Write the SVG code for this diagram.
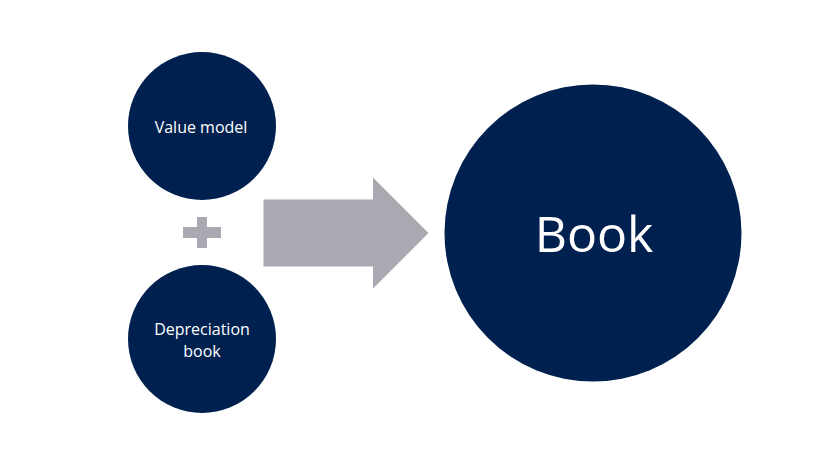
<svg xmlns="http://www.w3.org/2000/svg" width="816" height="459" viewBox="0 0 816 459">
<style>
.node{fill:#00214F}
.lbl{fill:#FFFFFF;font-family:"Open Sans","Noto Sans",sans-serif;text-anchor:middle}
.sm{font-size:16px}
.big{font-size:50px}
.gray{fill:#A9AAB1}
</style>
<rect width="816" height="459" fill="#FFFFFF"/>
<g id="value-model">
<circle class="node" cx="202" cy="126" r="74"/>
<text class="lbl sm" x="201" y="132.5">Value model</text>
</g>
<g id="plus">
<rect class="gray" x="183" y="227" width="38" height="11"/>
<rect class="gray" x="197" y="217" width="10" height="31"/>
</g>
<g id="depreciation-book">
<circle class="node" cx="202" cy="339" r="74"/>
<text class="lbl sm" x="202" y="335">Depreciation</text>
<text class="lbl sm" x="202" y="357">book</text>
</g>
<g id="connectors">
<polygon class="gray" points="263.5,199.5 373,199.5 373,177.5 428.5,233 373,288.5 373,266.5 263.5,266.5"/>
</g>
<g id="book">
<circle class="node" cx="593" cy="233" r="148.5"/>
<text class="lbl big" x="594" y="251.5">Book</text>
</g>
</svg>
